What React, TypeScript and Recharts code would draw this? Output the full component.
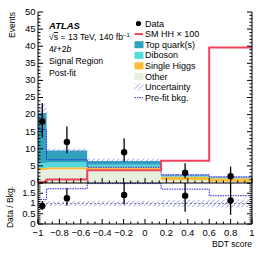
import React from 'react'
import { ComposedChart, Area, Line, Scatter, ErrorBar, XAxis, YAxis, ReferenceLine } from 'recharts'

// BDT score bins
const binEdges = [-1, -0.92, -0.54, 0.15, 0.6, 1]
const binCenters = [-0.96, -0.73, -0.195, 0.375, 0.8]

// post-fit background stack, bottom to top
const other = [3.8, 4.0, 4.0, 0.8, 0.4]
const singleHiggs = [0.6, 0.6, 0.6, 1.0, 1.0]
const diboson = [1.4, 1.4, 0.7, 0.2, 0.15]
const topQuark = [14.7, 3.5, 1.1, 0.3, 0.15]
const uncLow = [18.0, 8.9, 5.6, 2.0, 1.45]
const uncHigh = [23.0, 10.1, 7.2, 2.7, 1.95]
const prefit = [15.6, 6.8, 4.6, 2.4, 1.8]
const smHH = [0.3, 1.0, 3.7, 6.5, 39.6]

const events = [18, 12, 9, 3, 2]
const eventsLow = [13.2, 8.7, 6.2, 1.4, 0.7]
const eventsHigh = [23.4, 16.5, 13.1, 5.8, 4.8]

// lower panel
const ratio = [0.88, 1.26, 1.42, 1.38, 1.15]
const ratioLow = [0.68, 0.9, 0.95, 0.6, 0.45]
const ratioHigh = [1.12, 1.75, 2.0, 2.0, 2.0]
const ratioUncLow = [0.87, 0.88, 0.87, 0.83, 0.82]
const ratioUncHigh = [1.13, 1.12, 1.13, 1.17, 1.18]
const prefitRatio = [1.2, 1.72, 1.97, 1.7, 1.38]

const xTicks = [-1, -0.8, -0.6, -0.4, -0.2, 0, 0.2, 0.4, 0.6, 0.8, 1]
const xTickLabels = ['−1', '−0.8', '−0.6', '−0.4', '−0.2', '0', '0.2', '0.4', '0.6', '0.8', '1']
const yTicks = [0, 5, 10, 15, 20, 25, 30, 35, 40, 45, 50]
const yTickLabels = ['0', '5', '10', '15', '20', '25', '30', '35', '40', '45', '50']
const rTicks = [0, 0.5, 1, 1.5, 2]
const rTickLabels = ['0', '0.5', '1', '1.5', '']

const FONT = '"Liberation Sans", Arial, Helvetica, sans-serif'
const C_TOP = '#2fa2bc'
const C_DIB = '#52dade'
const C_SH = '#fbbd36'
const C_OTH = '#e7efde'
const C_HH = '#f2425a'
const C_UNC = '#6b6bf0'
const C_PRE = '#1f1fe6'

const subTicks = (majors: number[], n: number) => {
  const out: number[] = []
  for (let i = 0; i < majors.length - 1; i++) {
    const a = majors[i]
    const step = (majors[i + 1] - a) / n
    for (let k = 0; k < n; k++) out.push(a + k * step)
  }
  out.push(majors[majors.length - 1])
  return out
}
const xMinor = subTicks(xTicks, 3)
const yMinor = subTicks(yTicks, 5)
const rMinor = subTicks(rTicks, 5)

const findMajor = (v: number, majors: number[]) => majors.findIndex((m) => Math.abs(m - v) < 1e-6)

const makeTick =
  (side: string, majors: number[], labels: string[] | null) =>
  (props: any) => {
    const { x, y, payload } = props
    const idx = findMajor(payload.value, majors)
    const len = idx >= 0 ? 5 : 2.5
    let line
    if (side === 'left') line = <line x1={x} x2={x + len} y1={y} y2={y} stroke="#000" />
    else if (side === 'right') line = <line x1={x} x2={x - len} y1={y} y2={y} stroke="#000" />
    else if (side === 'top') line = <line x1={x} x2={x} y1={y} y2={y + len} stroke="#000" />
    else line = <line x1={x} x2={x} y1={y} y2={y - len} stroke="#000" />
    let label = null
    if (labels && idx >= 0) {
      if (side === 'left')
        label = (
          <text x={x - 2.5} y={y} dy="0.3em" textAnchor="end" fontSize={9.5} fontFamily={FONT} fill="#000">
            {labels[idx]}
          </text>
        )
      else
        label = (
          <text x={x} y={y + 11.5} textAnchor="middle" fontSize={9.5} fontFamily={FONT} fill="#000">
            {labels[idx]}
          </text>
        )
    }
    return (
      <g>
        {line}
        {label}
      </g>
    )
  }

const lastBin = (i: number) => Math.min(i, binCenters.length - 1)

const mainRows = binEdges.map((x, i) => {
  const b = lastBin(i)
  return {
    x,
    other: other[b],
    singleHiggs: singleHiggs[b],
    diboson: diboson[b],
    topQuark: topQuark[b],
    unc: [uncLow[b], uncHigh[b]],
    prefit: prefit[b],
    smHH: smHH[b],
  }
})

const ratioRows = binEdges.map((x, i) => {
  const b = lastBin(i)
  return { x, unc: [ratioUncLow[b], ratioUncHigh[b]], prefit: prefitRatio[b] }
})

const eventPoints = binCenters.map((x, i) => ({
  x,
  y: events[i],
  err: [events[i] - eventsLow[i], eventsHigh[i] - events[i]],
}))

const ratioPoints = binCenters.map((x, i) => ({
  x,
  y: ratio[i],
  err: [ratio[i] - ratioLow[i], ratioHigh[i] - ratio[i]],
}))

const Dot = (props: any) => <circle cx={props.cx} cy={props.cy} r={3.2} fill="#000" />

const Hatch = ({ id }: { id: string }) => (
  <defs>
    <pattern id={id} patternUnits="userSpaceOnUse" width={3.5} height={3.5} patternTransform="rotate(45)">
      <line x1={0} y1={0} x2={0} y2={3.5} stroke={C_UNC} strokeWidth={1} />
    </pattern>
  </defs>
)

const legendItems = [
  { label: 'Data', kind: 'dot', color: '#000' },
  { label: 'SM HH × 100', kind: 'line', color: C_HH },
  { label: 'Top quark(s)', kind: 'box', color: C_TOP },
  { label: 'Diboson', kind: 'box', color: C_DIB },
  { label: 'Single Higgs', kind: 'box', color: C_SH },
  { label: 'Other', kind: 'box', color: C_OTH },
  { label: 'Uncertainty', kind: 'hatch', color: C_UNC },
  { label: 'Pre-fit bkg.', kind: 'dash', color: C_PRE },
]

const Overlay = () => (
  <svg width={266} height={255} style={{ position: 'absolute', left: 0, top: 0, pointerEvents: 'none' }} fontFamily={FONT}>
    <Hatch id="hatchLegend" />
    <text x={15} y={12} transform="rotate(-90 15 12)" textAnchor="end" fontSize={8.5}>
      Events
    </text>
    <text x={13} y={207} transform="rotate(-90 13 207)" textAnchor="middle" fontSize={8.5}>
      Data / Bkg.
    </text>
    <text x={252} y={247} textAnchor="end" fontSize={8.5}>
      BDT score
    </text>

    <text x={49} y={28.5} fontSize={9.5} fontWeight="bold" fontStyle="italic">
      ATLAS
    </text>
    <text x={49} y={40} fontSize={8.7}>
      √<tspan textDecoration="overline">s</tspan> = 13 TeV, 140 fb<tspan dy={-3} fontSize={6}>−1</tspan>
    </text>
    <text x={49} y={51.5} fontSize={8.7}>
      4<tspan fontStyle="italic">ℓ</tspan>+2<tspan fontStyle="italic">b</tspan>
    </text>
    <text x={49} y={64} fontSize={8.7}>
      Signal Region
    </text>
    <text x={49} y={76} fontSize={8.7}>
      Post-fit
    </text>

    {legendItems.map((it, i) => {
      const cy = 23.5 + i * 10.6
      let icon
      if (it.kind === 'dot') icon = <circle cx={138.5} cy={cy} r={2.6} fill="#000" />
      else if (it.kind === 'line') icon = <line x1={134.5} x2={143} y1={cy} y2={cy} stroke={it.color} strokeWidth={2} />
      else if (it.kind === 'box') icon = <rect x={134.5} y={cy - 3.5} width={9} height={7} fill={it.color} />
      else if (it.kind === 'hatch') icon = <rect x={134.5} y={cy - 3.5} width={9} height={7} fill="url(#hatchLegend)" />
      else icon = <line x1={134.5} x2={143} y1={cy} y2={cy} stroke={it.color} strokeWidth={1} strokeDasharray="1.5 1" />
      return (
        <g key={it.label}>
          {icon}
          <text x={145} y={cy} dy="0.35em" fontSize={9}>
            {it.label}
          </text>
        </g>
      )
    })}
  </svg>
)

const App = () => {
  return (
    <div style={{ position: 'absolute', left: 0, top: 0, width: 266, height: 255, background: '#fff' }}>
      <div style={{ position: 'absolute', left: 0, top: 176 }}>
        <ComposedChart width={266} height={79} data={ratioRows} margin={{ top: 7, right: 0, bottom: 0, left: 0 }}>
          <Hatch id="hatchRatio" />
          <XAxis
            dataKey="x"
            type="number"
            domain={[-1, 1]}
            allowDataOverflow
            ticks={xMinor}
            interval={0}
            height={31}
            tickSize={0}
            tickMargin={0}
            tick={makeTick('bottom', xTicks, xTickLabels)}
            axisLine={{ stroke: '#000' }}
          />
          <XAxis
            xAxisId="top"
            orientation="top"
            dataKey="x"
            type="number"
            domain={[-1, 1]}
            allowDataOverflow
            ticks={xMinor}
            interval={0}
            height={0}
            tickSize={0}
            tickMargin={0}
            tick={makeTick('top', xTicks, null)}
            axisLine={{ stroke: '#000' }}
          />
          <YAxis
            type="number"
            domain={[0, 2]}
            allowDataOverflow
            ticks={rMinor}
            interval={0}
            width={38}
            tickSize={0}
            tickMargin={0}
            tick={makeTick('left', rTicks, rTickLabels)}
            axisLine={{ stroke: '#000' }}
          />
          <YAxis
            yAxisId="right"
            orientation="right"
            type="number"
            domain={[0, 2]}
            allowDataOverflow
            ticks={rMinor}
            interval={0}
            width={14}
            tickSize={0}
            tickMargin={0}
            tick={makeTick('right', rTicks, null)}
            axisLine={{ stroke: '#000' }}
          />
          <Area type="stepAfter" dataKey="unc" fill="url(#hatchRatio)" fillOpacity={1} stroke="none" isAnimationActive={false} />
          <ReferenceLine y={1} stroke="#888" strokeDasharray="2 2" strokeWidth={1} />
          <Line type="stepAfter" dataKey="prefit" stroke={C_PRE} strokeWidth={1} strokeDasharray="1.5 1" dot={false} isAnimationActive={false} />
          <Scatter data={ratioPoints} dataKey="y" shape={Dot} isAnimationActive={false}>
            <ErrorBar dataKey="err" direction="y" width={0} stroke="#000" strokeWidth={1.3} isAnimationActive={false} />
          </Scatter>
        </ComposedChart>
      </div>
      <div style={{ position: 'absolute', left: 0, top: 0 }}>
        <ComposedChart width={266} height={192} data={mainRows} margin={{ top: 12, right: 0, bottom: 0, left: 0 }}>
          <Hatch id="hatchMain" />
          <XAxis
            dataKey="x"
            type="number"
            domain={[-1, 1]}
            allowDataOverflow
            ticks={xMinor}
            interval={0}
            height={9}
            tickSize={0}
            tickMargin={0}
            tick={makeTick('bottom', xTicks, null)}
            axisLine={{ stroke: '#000' }}
          />
          <XAxis
            xAxisId="top"
            orientation="top"
            dataKey="x"
            type="number"
            domain={[-1, 1]}
            allowDataOverflow
            ticks={xMinor}
            interval={0}
            height={0}
            tickSize={0}
            tickMargin={0}
            tick={makeTick('top', xTicks, null)}
            axisLine={{ stroke: '#000' }}
          />
          <YAxis
            type="number"
            domain={[0, 50]}
            allowDataOverflow
            ticks={yMinor}
            interval={0}
            width={38}
            tickSize={0}
            tickMargin={0}
            tick={makeTick('left', yTicks, yTickLabels)}
            axisLine={{ stroke: '#000' }}
          />
          <YAxis
            yAxisId="right"
            orientation="right"
            type="number"
            domain={[0, 50]}
            allowDataOverflow
            ticks={yMinor}
            interval={0}
            width={14}
            tickSize={0}
            tickMargin={0}
            tick={makeTick('right', yTicks, null)}
            axisLine={{ stroke: '#000' }}
          />
          <Area type="stepAfter" dataKey="other" stackId="bkg" fill={C_OTH} fillOpacity={1} stroke="none" isAnimationActive={false} />
          <Area type="stepAfter" dataKey="singleHiggs" stackId="bkg" fill={C_SH} fillOpacity={1} stroke="none" isAnimationActive={false} />
          <Area type="stepAfter" dataKey="diboson" stackId="bkg" fill={C_DIB} fillOpacity={1} stroke="none" isAnimationActive={false} />
          <Area type="stepAfter" dataKey="topQuark" stackId="bkg" fill={C_TOP} fillOpacity={1} stroke="none" isAnimationActive={false} />
          <Area type="stepAfter" dataKey="unc" fill="url(#hatchMain)" fillOpacity={1} stroke="none" isAnimationActive={false} />
          <Line type="stepAfter" dataKey="prefit" stroke={C_PRE} strokeWidth={1} strokeDasharray="1.5 1" dot={false} isAnimationActive={false} />
          <Line type="stepAfter" dataKey="smHH" stroke={C_HH} strokeWidth={2} dot={false} isAnimationActive={false} />
          <Scatter data={eventPoints} dataKey="y" shape={Dot} isAnimationActive={false}>
            <ErrorBar dataKey="err" direction="y" width={0} stroke="#000" strokeWidth={1.3} isAnimationActive={false} />
          </Scatter>
        </ComposedChart>
      </div>
      <Overlay />
    </div>
  )
}

export default App
